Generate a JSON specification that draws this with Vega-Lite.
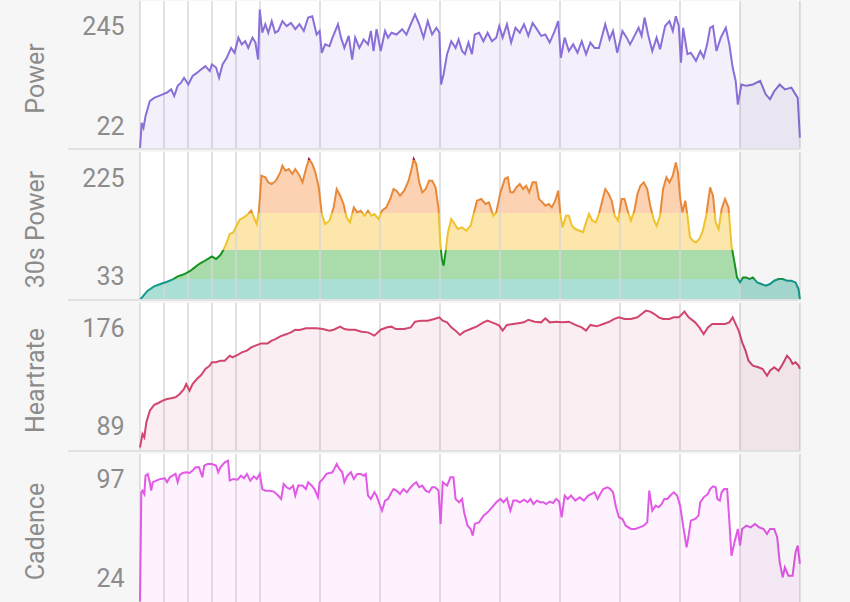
{
  "$schema": "https://vega.github.io/schema/vega-lite/v6.json",
  "background": "#f6f6f6",
  "padding": {"left": 23, "right": 50, "top": 0, "bottom": 1},
  "spacing": 3,
  "bounds": "flush",
  "config": {
    "view": {"stroke": null, "fill": "white"},
    "axisY": {"grid": false, "ticks": false, "domain": false, "labelFont": "Roboto", "labelFontSize": 25, "labelColor": "#8c8c8c", "labelPadding": 16, "titleFont": "Roboto", "titleFontSize": 25, "titleColor": "#8c8c8c", "titleFontWeight": "normal", "titleBaseline": "alphabetic", "titleAngle": 270}
  },
  "datasets": {
    "grid": [{"t":0},{"t":2},{"t":4},{"t":6},{"t":8},{"t":10},{"t":15},{"t":20},{"t":25},{"t":30},{"t":35},{"t":40},{"t":45},{"t":50},{"t":55}],
    "power": [{"t":0,"v":-29},{"t":0.14,"v":29},{"t":0.29,"v":18},{"t":0.46,"v":44},{"t":0.82,"v":78},{"t":1.18,"v":85},{"t":1.53,"v":89},{"t":1.89,"v":93},{"t":2.25,"v":97},{"t":2.6,"v":104},{"t":2.85,"v":89},{"t":3.14,"v":112},{"t":3.42,"v":119},{"t":3.67,"v":130},{"t":4.03,"v":115},{"t":4.38,"v":134},{"t":4.74,"v":141},{"t":5.1,"v":149},{"t":5.45,"v":156},{"t":5.81,"v":145},{"t":5.99,"v":160},{"t":6.34,"v":153},{"t":6.59,"v":130},{"t":6.88,"v":160},{"t":7.23,"v":175},{"t":7.59,"v":197},{"t":7.88,"v":186},{"t":8.2,"v":220},{"t":8.48,"v":205},{"t":8.77,"v":212},{"t":9.02,"v":197},{"t":9.37,"v":220},{"t":9.62,"v":209},{"t":9.84,"v":171},{"t":9.98,"v":283},{"t":10.19,"v":231},{"t":10.44,"v":250},{"t":10.69,"v":231},{"t":10.98,"v":257},{"t":11.26,"v":231},{"t":11.51,"v":235},{"t":11.87,"v":257},{"t":12.22,"v":246},{"t":12.58,"v":253},{"t":12.94,"v":239},{"t":13.29,"v":250},{"t":13.65,"v":235},{"t":14.01,"v":265},{"t":14.36,"v":268},{"t":14.72,"v":227},{"t":14.97,"v":235},{"t":15.15,"v":186},{"t":15.43,"v":205},{"t":15.79,"v":201},{"t":16.04,"v":220},{"t":16.5,"v":250},{"t":16.75,"v":220},{"t":17.03,"v":197},{"t":17.39,"v":224},{"t":17.68,"v":171},{"t":17.93,"v":220},{"t":18.28,"v":197},{"t":18.64,"v":216},{"t":19.0,"v":205},{"t":19.24,"v":235},{"t":19.46,"v":190},{"t":19.71,"v":239},{"t":20.06,"v":190},{"t":20.42,"v":235},{"t":20.67,"v":220},{"t":20.96,"v":231},{"t":21.38,"v":227},{"t":21.85,"v":239},{"t":22.2,"v":227},{"t":22.56,"v":250},{"t":22.92,"v":272},{"t":23.27,"v":250},{"t":23.63,"v":220},{"t":23.98,"v":257},{"t":24.34,"v":227},{"t":24.7,"v":242},{"t":24.95,"v":231},{"t":25.09,"v":115},{"t":25.3,"v":138},{"t":25.59,"v":183},{"t":25.94,"v":212},{"t":26.3,"v":197},{"t":26.55,"v":216},{"t":26.84,"v":190},{"t":27.08,"v":183},{"t":27.37,"v":209},{"t":27.66,"v":183},{"t":27.9,"v":227},{"t":28.26,"v":231},{"t":28.62,"v":212},{"t":28.97,"v":231},{"t":29.33,"v":212},{"t":29.69,"v":220},{"t":29.94,"v":246},{"t":30.22,"v":220},{"t":30.58,"v":250},{"t":30.93,"v":209},{"t":31.29,"v":242},{"t":31.65,"v":231},{"t":32.0,"v":250},{"t":32.36,"v":224},{"t":32.72,"v":253},{"t":33.07,"v":239},{"t":33.43,"v":224},{"t":33.78,"v":227},{"t":34.14,"v":209},{"t":34.5,"v":231},{"t":34.85,"v":257},{"t":35.07,"v":175},{"t":35.39,"v":220},{"t":35.74,"v":190},{"t":36.1,"v":205},{"t":36.46,"v":186},{"t":36.81,"v":212},{"t":37.17,"v":183},{"t":37.53,"v":209},{"t":37.88,"v":197},{"t":38.24,"v":197},{"t":38.77,"v":250},{"t":39.13,"v":216},{"t":39.42,"v":235},{"t":39.77,"v":186},{"t":40.2,"v":235},{"t":40.56,"v":220},{"t":40.84,"v":205},{"t":41.13,"v":220},{"t":41.55,"v":242},{"t":41.8,"v":224},{"t":42.05,"v":265},{"t":42.34,"v":227},{"t":42.69,"v":190},{"t":43.05,"v":220},{"t":43.34,"v":194},{"t":43.76,"v":246},{"t":44.12,"v":257},{"t":44.4,"v":235},{"t":44.65,"v":268},{"t":44.9,"v":246},{"t":45.08,"v":164},{"t":45.26,"v":242},{"t":45.62,"v":183},{"t":45.9,"v":186},{"t":46.33,"v":168},{"t":46.69,"v":190},{"t":46.97,"v":175},{"t":47.26,"v":205},{"t":47.51,"v":242},{"t":47.75,"v":246},{"t":48.04,"v":190},{"t":48.4,"v":220},{"t":48.82,"v":242},{"t":49.11,"v":205},{"t":49.39,"v":153},{"t":49.64,"v":123},{"t":49.82,"v":70},{"t":50.11,"v":115},{"t":50.53,"v":112},{"t":51.07,"v":115},{"t":51.68,"v":123},{"t":52.14,"v":93},{"t":52.5,"v":82},{"t":52.85,"v":100},{"t":53.31,"v":115},{"t":53.74,"v":104},{"t":54.28,"v":108},{"t":54.81,"v":85},{"t":54.99,"v":-4}],
    "p30": [{"t":0,"v":-12.8},{"t":0.29,"v":-4.5},{"t":0.64,"v":5.3},{"t":1.18,"v":13.7},{"t":1.71,"v":18.3},{"t":2.25,"v":22.8},{"t":2.78,"v":28},{"t":3.14,"v":33.2},{"t":3.49,"v":35.8},{"t":3.85,"v":39.7},{"t":4.21,"v":44.3},{"t":4.56,"v":50.8},{"t":4.92,"v":57.3},{"t":5.27,"v":61.8},{"t":5.63,"v":67},{"t":5.99,"v":72.2},{"t":6.34,"v":67},{"t":6.7,"v":74.8},{"t":6.99,"v":86.5},{"t":7.23,"v":99.5},{"t":7.48,"v":115.8},{"t":7.77,"v":119},{"t":8.05,"v":132},{"t":8.3,"v":143.7},{"t":8.66,"v":148.3},{"t":9.02,"v":154.8},{"t":9.27,"v":161.3},{"t":9.55,"v":145},{"t":9.73,"v":135.3},{"t":9.91,"v":161.3},{"t":10.12,"v":229.5},{"t":10.44,"v":226.3},{"t":10.69,"v":216.5},{"t":10.98,"v":213.3},{"t":11.33,"v":219.8},{"t":11.69,"v":236},{"t":11.87,"v":249},{"t":12.12,"v":239.3},{"t":12.4,"v":242.5},{"t":12.69,"v":232.8},{"t":12.94,"v":242.5},{"t":13.29,"v":229.5},{"t":13.54,"v":216.5},{"t":13.83,"v":242.5},{"t":14.08,"v":262},{"t":14.36,"v":252.3},{"t":14.61,"v":236},{"t":14.9,"v":206.8},{"t":15.15,"v":154.8},{"t":15.43,"v":135.3},{"t":15.79,"v":141.8},{"t":16.14,"v":167.8},{"t":16.39,"v":203.5},{"t":16.68,"v":190.5},{"t":16.96,"v":174.3},{"t":17.21,"v":148.3},{"t":17.5,"v":138.5},{"t":17.82,"v":167.8},{"t":18.1,"v":158},{"t":18.39,"v":161.3},{"t":18.71,"v":151.5},{"t":19.0,"v":161.3},{"t":19.28,"v":151.5},{"t":19.53,"v":154.8},{"t":19.89,"v":145},{"t":20.17,"v":161.3},{"t":20.53,"v":167.8},{"t":20.85,"v":184},{"t":21.13,"v":203.5},{"t":21.38,"v":200.3},{"t":21.67,"v":190.5},{"t":22.02,"v":200.3},{"t":22.38,"v":219.8},{"t":22.63,"v":242.5},{"t":22.81,"v":262},{"t":23.02,"v":252.3},{"t":23.27,"v":216.5},{"t":23.52,"v":197},{"t":23.81,"v":203.5},{"t":24.09,"v":219.8},{"t":24.34,"v":219.8},{"t":24.63,"v":206.8},{"t":24.88,"v":164.5},{"t":25.02,"v":99.5},{"t":25.16,"v":67},{"t":25.3,"v":54},{"t":25.48,"v":83.3},{"t":25.66,"v":119},{"t":25.94,"v":145},{"t":26.23,"v":135.3},{"t":26.48,"v":125.5},{"t":26.84,"v":128.8},{"t":27.19,"v":122.3},{"t":27.55,"v":132},{"t":27.83,"v":158},{"t":28.08,"v":180.8},{"t":28.44,"v":184},{"t":28.8,"v":174.3},{"t":29.08,"v":177.5},{"t":29.44,"v":151.5},{"t":29.69,"v":158},{"t":30.04,"v":197},{"t":30.4,"v":223},{"t":30.65,"v":226.3},{"t":30.86,"v":197},{"t":31.11,"v":197},{"t":31.36,"v":206.8},{"t":31.65,"v":213.3},{"t":31.93,"v":203.5},{"t":32.18,"v":210},{"t":32.43,"v":197},{"t":32.72,"v":216.5},{"t":33.0,"v":216.5},{"t":33.25,"v":184},{"t":33.54,"v":177.5},{"t":33.78,"v":171},{"t":34.07,"v":174.3},{"t":34.32,"v":167.8},{"t":34.6,"v":180.8},{"t":34.85,"v":200.3},{"t":35.03,"v":154.8},{"t":35.21,"v":128.8},{"t":35.5,"v":151.5},{"t":35.74,"v":151.5},{"t":35.99,"v":132},{"t":36.28,"v":125.5},{"t":36.64,"v":122.3},{"t":36.92,"v":119},{"t":37.17,"v":138.5},{"t":37.42,"v":154.8},{"t":37.7,"v":141.8},{"t":37.99,"v":138.5},{"t":38.24,"v":154.8},{"t":38.49,"v":177.5},{"t":38.77,"v":203.5},{"t":39.06,"v":193.8},{"t":39.31,"v":180.8},{"t":39.56,"v":151.5},{"t":39.84,"v":141.8},{"t":40.13,"v":184},{"t":40.38,"v":184},{"t":40.63,"v":161.3},{"t":40.91,"v":141.8},{"t":41.2,"v":161.3},{"t":41.45,"v":193.8},{"t":41.7,"v":210},{"t":41.98,"v":216.5},{"t":42.27,"v":203.5},{"t":42.52,"v":171},{"t":42.8,"v":145},{"t":43.05,"v":132},{"t":43.34,"v":151.5},{"t":43.59,"v":203.5},{"t":43.87,"v":226.3},{"t":44.12,"v":216.5},{"t":44.4,"v":229.5},{"t":44.65,"v":255.5},{"t":44.83,"v":236},{"t":45.01,"v":187.3},{"t":45.19,"v":158},{"t":45.44,"v":180.8},{"t":45.62,"v":151.5},{"t":45.83,"v":109.3},{"t":46.08,"v":102.8},{"t":46.33,"v":99.5},{"t":46.61,"v":106},{"t":46.9,"v":122.3},{"t":47.18,"v":151.5},{"t":47.51,"v":206.8},{"t":47.75,"v":190.5},{"t":47.97,"v":138.5},{"t":48.22,"v":125.5},{"t":48.47,"v":164.5},{"t":48.75,"v":184},{"t":49.04,"v":167.8},{"t":49.29,"v":93},{"t":49.54,"v":60.5},{"t":49.75,"v":31.3},{"t":50.0,"v":21.5},{"t":50.25,"v":31.3},{"t":50.53,"v":31.3},{"t":50.78,"v":28},{"t":51.07,"v":31.3},{"t":51.43,"v":21.5},{"t":51.78,"v":18.3},{"t":52.14,"v":15},{"t":52.5,"v":18.3},{"t":52.85,"v":24.8},{"t":53.21,"v":28},{"t":53.56,"v":28},{"t":53.92,"v":24.8},{"t":54.28,"v":24.8},{"t":54.63,"v":21.5},{"t":54.88,"v":8.5},{"t":54.99,"v":-11}],
    "hr": [{"t":0,"v":71},{"t":0.21,"v":82.9},{"t":0.36,"v":80},{"t":0.53,"v":93.1},{"t":0.82,"v":103.4},{"t":1.18,"v":108.4},{"t":1.53,"v":110.1},{"t":1.89,"v":112.2},{"t":2.25,"v":113.6},{"t":2.6,"v":114.2},{"t":2.96,"v":115.1},{"t":3.31,"v":118},{"t":3.67,"v":122.4},{"t":3.85,"v":126.8},{"t":4.13,"v":121},{"t":4.38,"v":126.8},{"t":4.74,"v":131.2},{"t":5.1,"v":134.7},{"t":5.45,"v":140},{"t":5.81,"v":142.9},{"t":5.99,"v":145.9},{"t":6.34,"v":145.9},{"t":6.7,"v":147.3},{"t":7.06,"v":147.3},{"t":7.48,"v":151.7},{"t":7.7,"v":150.2},{"t":8.13,"v":152.3},{"t":8.48,"v":154.6},{"t":8.91,"v":156.1},{"t":9.27,"v":159},{"t":9.62,"v":160.5},{"t":10.09,"v":162.5},{"t":10.62,"v":162.5},{"t":10.98,"v":164.9},{"t":11.33,"v":166.4},{"t":11.69,"v":168.7},{"t":12.22,"v":170.7},{"t":12.58,"v":172.2},{"t":12.94,"v":174.5},{"t":13.29,"v":174.3},{"t":13.83,"v":175.7},{"t":14.36,"v":175.7},{"t":14.72,"v":175.7},{"t":15.25,"v":175.1},{"t":15.79,"v":173.7},{"t":16.14,"v":174.5},{"t":16.68,"v":177.2},{"t":17.03,"v":175.1},{"t":17.39,"v":174.5},{"t":17.93,"v":174.5},{"t":18.46,"v":172.8},{"t":19.0,"v":172.2},{"t":19.53,"v":169.3},{"t":20.06,"v":174.5},{"t":20.6,"v":176.6},{"t":20.96,"v":177.2},{"t":21.31,"v":175.1},{"t":22.02,"v":175.1},{"t":22.56,"v":176.6},{"t":22.92,"v":181.6},{"t":23.45,"v":182.5},{"t":23.98,"v":182.5},{"t":24.52,"v":183.9},{"t":24.95,"v":185.4},{"t":25.23,"v":182.5},{"t":25.59,"v":181},{"t":25.94,"v":176.6},{"t":26.3,"v":173.7},{"t":26.66,"v":169.9},{"t":27.01,"v":172.8},{"t":27.55,"v":175.1},{"t":28.08,"v":177.5},{"t":28.62,"v":181},{"t":28.97,"v":182.5},{"t":29.33,"v":181},{"t":29.69,"v":179.5},{"t":29.94,"v":178.1},{"t":30.22,"v":173.7},{"t":30.58,"v":178.7},{"t":31.11,"v":179.5},{"t":31.65,"v":180.4},{"t":32.0,"v":181},{"t":32.36,"v":183.3},{"t":32.89,"v":181.6},{"t":33.43,"v":181},{"t":33.78,"v":184.5},{"t":34.14,"v":181},{"t":34.68,"v":181.6},{"t":35.21,"v":181},{"t":35.74,"v":181.6},{"t":36.28,"v":178.7},{"t":36.81,"v":176.6},{"t":37.17,"v":173.7},{"t":37.53,"v":178.7},{"t":38.06,"v":177.5},{"t":38.6,"v":179.5},{"t":39.13,"v":181.6},{"t":39.49,"v":183.9},{"t":39.91,"v":185.4},{"t":40.38,"v":183.9},{"t":40.91,"v":183.9},{"t":41.45,"v":185.4},{"t":41.8,"v":188.3},{"t":42.16,"v":191.3},{"t":42.52,"v":190.4},{"t":42.87,"v":188.3},{"t":43.23,"v":185.4},{"t":43.59,"v":183.9},{"t":44.12,"v":183.9},{"t":44.48,"v":185.4},{"t":44.9,"v":185.4},{"t":45.37,"v":190.4},{"t":45.72,"v":185.4},{"t":46.26,"v":181},{"t":46.61,"v":176.6},{"t":46.97,"v":170.7},{"t":47.33,"v":176.6},{"t":47.68,"v":179.5},{"t":48.22,"v":179.5},{"t":48.75,"v":179.5},{"t":49.11,"v":181},{"t":49.39,"v":185.4},{"t":49.64,"v":179.5},{"t":49.89,"v":173.7},{"t":50.18,"v":163.4},{"t":50.46,"v":156.1},{"t":50.71,"v":147.3},{"t":51.07,"v":142.9},{"t":51.53,"v":141.5},{"t":51.89,"v":140},{"t":52.25,"v":134.1},{"t":52.5,"v":138.5},{"t":52.85,"v":141.5},{"t":53.21,"v":138.5},{"t":53.56,"v":144.4},{"t":53.92,"v":151.7},{"t":54.17,"v":148.8},{"t":54.38,"v":144.4},{"t":54.63,"v":145.9},{"t":54.88,"v":143},{"t":54.99,"v":140}],
    "cad": [{"t":0,"v":7.5},{"t":0.11,"v":87.6},{"t":0.21,"v":88.8},{"t":0.36,"v":86.4},{"t":0.46,"v":99.8},{"t":0.64,"v":101.1},{"t":0.82,"v":95},{"t":0.93,"v":88.8},{"t":1.07,"v":95},{"t":1.35,"v":96.2},{"t":1.71,"v":97.4},{"t":2.07,"v":97.9},{"t":2.25,"v":95},{"t":2.49,"v":98.6},{"t":2.71,"v":99.8},{"t":2.96,"v":101.1},{"t":3.14,"v":95},{"t":3.31,"v":100.3},{"t":3.56,"v":101.8},{"t":3.85,"v":102.3},{"t":4.13,"v":101.8},{"t":4.38,"v":103.5},{"t":4.63,"v":105.9},{"t":4.92,"v":105.9},{"t":5.2,"v":98.6},{"t":5.35,"v":107.2},{"t":5.63,"v":108.4},{"t":5.99,"v":108.4},{"t":6.34,"v":107.2},{"t":6.52,"v":102.3},{"t":6.7,"v":105.9},{"t":7.06,"v":109.6},{"t":7.34,"v":110.8},{"t":7.48,"v":96.2},{"t":7.77,"v":97.4},{"t":8.13,"v":96.9},{"t":8.41,"v":99.8},{"t":8.66,"v":97.9},{"t":8.91,"v":101.1},{"t":9.19,"v":96.2},{"t":9.48,"v":99.3},{"t":9.73,"v":97.4},{"t":9.98,"v":101.1},{"t":10.19,"v":90},{"t":10.44,"v":88.8},{"t":10.8,"v":88.8},{"t":11.15,"v":88.1},{"t":11.51,"v":85.2},{"t":11.76,"v":82.7},{"t":11.97,"v":93.7},{"t":12.22,"v":91.3},{"t":12.47,"v":90},{"t":12.76,"v":92.5},{"t":12.94,"v":85.2},{"t":13.19,"v":92.5},{"t":13.54,"v":92.5},{"t":13.83,"v":90},{"t":14.01,"v":95},{"t":14.26,"v":93},{"t":14.54,"v":90},{"t":14.83,"v":83.9},{"t":14.97,"v":95},{"t":15.25,"v":97.4},{"t":15.54,"v":101.1},{"t":15.79,"v":101.8},{"t":16.04,"v":102.3},{"t":16.25,"v":105.9},{"t":16.39,"v":108.4},{"t":16.61,"v":104.7},{"t":16.86,"v":102.3},{"t":17.03,"v":95},{"t":17.28,"v":99.8},{"t":17.57,"v":102.3},{"t":17.82,"v":97.4},{"t":18.1,"v":101.1},{"t":18.39,"v":101.1},{"t":18.64,"v":99.8},{"t":18.82,"v":101.1},{"t":19.0,"v":85.2},{"t":19.24,"v":82.7},{"t":19.53,"v":87.6},{"t":19.71,"v":85.2},{"t":19.96,"v":79},{"t":20.17,"v":74.1},{"t":20.42,"v":81.5},{"t":20.67,"v":82.7},{"t":20.96,"v":87.6},{"t":21.13,"v":90},{"t":21.38,"v":88.8},{"t":21.67,"v":86.4},{"t":21.95,"v":90},{"t":22.24,"v":87.6},{"t":22.56,"v":91.3},{"t":22.81,"v":93.7},{"t":23.02,"v":95},{"t":23.27,"v":91.3},{"t":23.52,"v":92.5},{"t":23.81,"v":88.8},{"t":24.09,"v":87.6},{"t":24.34,"v":91.3},{"t":24.59,"v":91.3},{"t":24.88,"v":88.8},{"t":25.05,"v":64.4},{"t":25.23,"v":95},{"t":25.59,"v":92.5},{"t":25.87,"v":98.6},{"t":26.12,"v":98.6},{"t":26.3,"v":82.7},{"t":26.59,"v":80.3},{"t":26.84,"v":82.7},{"t":27.01,"v":72.9},{"t":27.3,"v":63.1},{"t":27.55,"v":60.7},{"t":27.73,"v":55.8},{"t":27.9,"v":64.4},{"t":28.26,"v":65.6},{"t":28.62,"v":70.5},{"t":28.97,"v":72.9},{"t":29.33,"v":76.6},{"t":29.69,"v":80.3},{"t":30.04,"v":82.7},{"t":30.29,"v":80.3},{"t":30.58,"v":83.2},{"t":30.86,"v":74.1},{"t":31.11,"v":81.5},{"t":31.36,"v":81.5},{"t":31.65,"v":80.3},{"t":32.0,"v":82.2},{"t":32.29,"v":80.3},{"t":32.54,"v":82.7},{"t":32.79,"v":79},{"t":33.07,"v":81.5},{"t":33.36,"v":80.3},{"t":33.61,"v":80.3},{"t":33.86,"v":79},{"t":34.14,"v":80.8},{"t":34.43,"v":79.8},{"t":34.68,"v":82.7},{"t":34.93,"v":80.8},{"t":35.14,"v":69.3},{"t":35.39,"v":85.2},{"t":35.64,"v":82.7},{"t":35.92,"v":85.2},{"t":36.28,"v":81.5},{"t":36.64,"v":83.9},{"t":36.99,"v":81.5},{"t":37.35,"v":85.2},{"t":37.63,"v":86.4},{"t":37.88,"v":87.6},{"t":38.13,"v":82.7},{"t":38.35,"v":86.4},{"t":38.6,"v":90},{"t":38.95,"v":91.3},{"t":39.2,"v":90},{"t":39.42,"v":87.6},{"t":39.67,"v":76.6},{"t":39.91,"v":69.3},{"t":40.2,"v":68},{"t":40.48,"v":63.1},{"t":40.91,"v":60.7},{"t":41.27,"v":60.7},{"t":41.62,"v":61.9},{"t":41.98,"v":63.1},{"t":42.27,"v":65.6},{"t":42.44,"v":88.8},{"t":42.69,"v":74.1},{"t":42.98,"v":77.8},{"t":43.23,"v":76.6},{"t":43.48,"v":79},{"t":43.69,"v":82.7},{"t":43.94,"v":82.7},{"t":44.19,"v":85.2},{"t":44.48,"v":87.6},{"t":44.76,"v":85.2},{"t":45.01,"v":77.8},{"t":45.26,"v":63.1},{"t":45.55,"v":47.2},{"t":45.72,"v":55.8},{"t":45.9,"v":66.8},{"t":46.26,"v":68},{"t":46.54,"v":70.5},{"t":46.69,"v":80.3},{"t":46.97,"v":83.9},{"t":47.33,"v":86.4},{"t":47.51,"v":90},{"t":47.75,"v":92},{"t":47.97,"v":91.3},{"t":48.11,"v":82.7},{"t":48.32,"v":81.5},{"t":48.47,"v":87.6},{"t":48.68,"v":90},{"t":48.93,"v":90},{"t":49.11,"v":66.8},{"t":49.29,"v":41.1},{"t":49.54,"v":50.9},{"t":49.82,"v":60.7},{"t":50.0,"v":48.5},{"t":50.18,"v":60.7},{"t":50.53,"v":63.1},{"t":50.89,"v":61.9},{"t":51.25,"v":64.4},{"t":51.6,"v":61.9},{"t":51.96,"v":60.7},{"t":52.25,"v":57},{"t":52.5,"v":60.7},{"t":52.85,"v":60.7},{"t":53.1,"v":54.6},{"t":53.31,"v":36.2},{"t":53.56,"v":25.2},{"t":53.74,"v":32.6},{"t":54.03,"v":26.4},{"t":54.38,"v":26.4},{"t":54.63,"v":43.6},{"t":54.81,"v":48.5},{"t":54.99,"v":35}]
  },
  "vconcat": [
    {
      "width": 660, "height": 148,
      "encoding": {
        "x": {"field": "t", "type": "quantitative", "scale": {"domain": [0, 55], "nice": false}, "axis": null},
        "y": {"field": "v", "type": "quantitative", "title": "Power", "scale": {"domain": [-29.5, 302.1], "nice": false, "zero": false}, "axis": {"values": [22, 245], "title": "Power", "titleX": -97, "titleY": 77}}
      },
      "layer": [
        {"data": {"name": "grid"}, "mark": {"type": "rule", "color": "#d6d6d6", "strokeWidth": 2, "opacity": 0.7},
         "encoding": {"y": null}},
        {"data": {"name": "power"}, "mark": {"type": "area", "color": "#8a6fd8", "opacity": 0.1},
         "encoding": {"y2": {"datum": -29.5}}},
        {"data": {"name": "power"}, "mark": {"type": "line", "color": "#8a6fd8", "strokeWidth": 2},
         "encoding": {}},
        {"data": {"values": [{"a": 50, "b": 55}]}, "mark": {"type": "rect", "color": "#000000", "opacity": 0.04},
         "encoding": {"x": {"field": "a", "type": "quantitative"}, "x2": {"field": "b"}, "y": null}},
        {"data": {"values": [{"a": -6, "b": 55, "c": -29.5}]}, "mark": {"type": "rule", "color": "#e2e2e2", "strokeWidth": 2},
         "encoding": {"x": {"field": "a", "type": "quantitative"}, "x2": {"field": "b"}, "y": {"field": "c", "type": "quantitative"}}}
      ]
    },
    {
      "width": 660, "height": 148,
      "encoding": {
        "x": {"field": "t", "type": "quantitative", "scale": {"domain": [0, 55], "nice": false}, "axis": null},
        "y": {"field": "v", "type": "quantitative", "title": "30s Power", "scale": {"domain": [-12.8, 275.7], "nice": false, "zero": false}, "axis": {"values": [33, 225], "title": "30s Power", "titleX": -97, "titleY": 77}}
      },
      "layer": [
        {"data": {"name": "p30"}, "mark": {"type": "area", "fill": {"gradient": "linear", "x1": 0, "y1": 1, "x2": 0, "y2": 0, "stops": [
            {"offset": 0, "color": "#a9dfd5"}, {"offset": 0.1485, "color": "#a9dfd5"},
            {"offset": 0.1485, "color": "#a9dcaa"}, {"offset": 0.3559, "color": "#a9dcaa"},
            {"offset": 0.3559, "color": "#fde6ab"}, {"offset": 0.6179, "color": "#fde6ab"},
            {"offset": 0.6179, "color": "#fcd2b2"}, {"offset": 0.9927, "color": "#fcd2b2"},
            {"offset": 0.9927, "color": "#f2a7a7"}, {"offset": 1, "color": "#f2a7a7"}]}},
         "encoding": {"y2": {"datum": -12.8}}},
        {"data": {"name": "grid"}, "mark": {"type": "rule", "color": "#d6d6d6", "strokeWidth": 2, "opacity": 0.7},
         "encoding": {"y": null}},
        {"data": {"name": "p30"}, "mark": {"type": "line", "strokeWidth": 2, "stroke": {"gradient": "linear", "x1": 0, "y1": 1, "x2": 0, "y2": 0, "stops": [
            {"offset": 0, "color": "#16988c"}, {"offset": 0.1485, "color": "#16988c"},
            {"offset": 0.1485, "color": "#17931f"}, {"offset": 0.3559, "color": "#17931f"},
            {"offset": 0.3559, "color": "#efc22f"}, {"offset": 0.6179, "color": "#efc22f"},
            {"offset": 0.6179, "color": "#e8893a"}, {"offset": 0.9927, "color": "#e8893a"},
            {"offset": 0.9927, "color": "#9a1e3c"}, {"offset": 1, "color": "#9a1e3c"}]}},
         "encoding": {}},
        {"data": {"values": [{"a": 50, "b": 55}]}, "mark": {"type": "rect", "color": "#000000", "opacity": 0.04},
         "encoding": {"x": {"field": "a", "type": "quantitative"}, "x2": {"field": "b"}, "y": null}},
        {"data": {"values": [{"a": -6, "b": 55, "c": -12.8}]}, "mark": {"type": "rule", "color": "#e2e2e2", "strokeWidth": 2},
         "encoding": {"x": {"field": "a", "type": "quantitative"}, "x2": {"field": "b"}, "y": {"field": "c", "type": "quantitative"}}}
      ]
    },
    {
      "width": 660, "height": 148,
      "encoding": {
        "x": {"field": "t", "type": "quantitative", "scale": {"domain": [0, 55], "nice": false}, "axis": null},
        "y": {"field": "v", "type": "quantitative", "title": "Heartrate", "scale": {"domain": [67.9, 198], "nice": false, "zero": false}, "axis": {"values": [89, 176], "title": "Heartrate", "titleX": -97, "titleY": 77}}
      },
      "layer": [
        {"data": {"name": "grid"}, "mark": {"type": "rule", "color": "#d6d6d6", "strokeWidth": 2, "opacity": 0.7},
         "encoding": {"y": null}},
        {"data": {"name": "hr"}, "mark": {"type": "area", "color": "#d2466e", "opacity": 0.09},
         "encoding": {"y2": {"datum": 67.9}}},
        {"data": {"name": "hr"}, "mark": {"type": "line", "color": "#d2466e", "strokeWidth": 2},
         "encoding": {}},
        {"data": {"values": [{"a": 50, "b": 55}]}, "mark": {"type": "rect", "color": "#000000", "opacity": 0.04},
         "encoding": {"x": {"field": "a", "type": "quantitative"}, "x2": {"field": "b"}, "y": null}},
        {"data": {"values": [{"a": -6, "b": 55, "c": 67.9}]}, "mark": {"type": "rule", "color": "#e2e2e2", "strokeWidth": 2},
         "encoding": {"x": {"field": "a", "type": "quantitative"}, "x2": {"field": "b"}, "y": {"field": "c", "type": "quantitative"}}}
      ]
    },
    {
      "width": 660, "height": 148,
      "encoding": {
        "x": {"field": "t", "type": "quantitative", "scale": {"domain": [0, 55], "nice": false}, "axis": null},
        "y": {"field": "v", "type": "quantitative", "title": "Cadence", "scale": {"domain": [7.1, 115.7], "nice": false, "zero": false}, "axis": {"values": [24, 97], "title": "Cadence", "titleX": -97, "titleY": 77}}
      },
      "layer": [
        {"data": {"name": "grid"}, "mark": {"type": "rule", "color": "#d6d6d6", "strokeWidth": 2, "opacity": 0.7},
         "encoding": {"y": null}},
        {"data": {"name": "cad"}, "mark": {"type": "area", "color": "#e05ae6", "opacity": 0.08},
         "encoding": {"y2": {"datum": 7.1}}},
        {"data": {"name": "cad"}, "mark": {"type": "line", "color": "#e05ae6", "strokeWidth": 2},
         "encoding": {}},
        {"data": {"values": [{"a": 50, "b": 55}]}, "mark": {"type": "rect", "color": "#000000", "opacity": 0.04},
         "encoding": {"x": {"field": "a", "type": "quantitative"}, "x2": {"field": "b"}, "y": null}}
      ]
    }
  ]
}
